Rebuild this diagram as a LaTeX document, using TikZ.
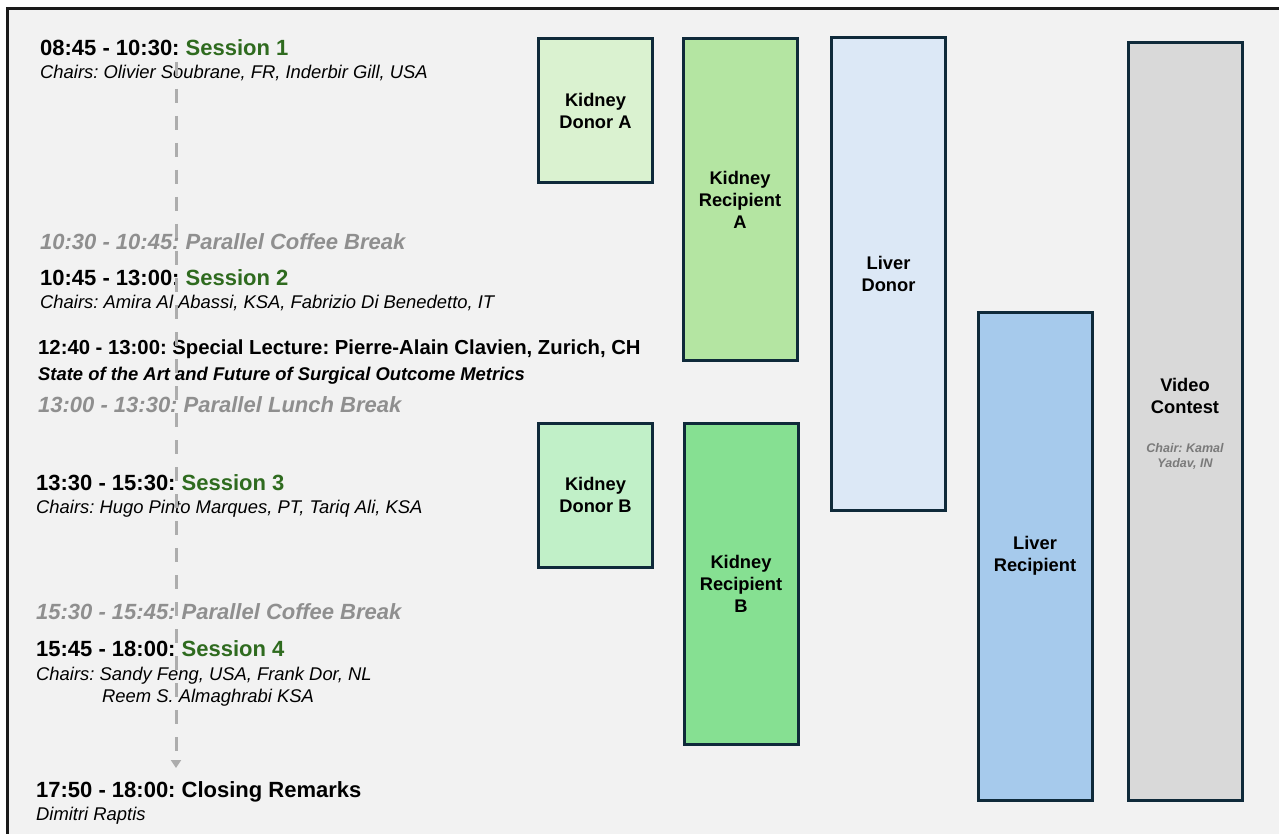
\documentclass[tikz,border=0pt]{standalone}
\usepackage{fontspec}
\setmainfont{Liberation Sans}
\frenchspacing
\usetikzlibrary{positioning, arrows.meta}
\definecolor{bgcol}{HTML}{F2F2F2}
\definecolor{framecol}{HTML}{1A1A1A}
\definecolor{boxline}{HTML}{0F2A3A}
\definecolor{kdafill}{HTML}{DAF2D0}
\definecolor{krafill}{HTML}{B4E5A2}
\definecolor{ldfill}{HTML}{DCE8F6}
\definecolor{lrfill}{HTML}{A6CAEC}
\definecolor{vcfill}{HTML}{D9D9D9}
\definecolor{kdbfill}{HTML}{C1F0C8}
\definecolor{krbfill}{HTML}{86E092}
\definecolor{sessgreen}{HTML}{2F6B1F}
\definecolor{breakgray}{HTML}{8F8F8F}
\definecolor{chairgray}{HTML}{7A7A7A}
\definecolor{linegray}{HTML}{ADADAD}
\tikzset{
	x=1pt, y=-1pt,
	node distance=12pt,
	track/.style={draw=boxline, line width=3pt, minimum width=114pt, inner sep=0pt},
	tracktext/.style={align=center, inner sep=0pt, font=\fontsize{18.3}{22}\selectfont\bfseries},
	chairnote/.style={align=center, inner sep=0pt, text=chairgray, font=\fontsize{12.5}{15}\selectfont\bfseries\itshape},
	head/.style={anchor=base west, inner sep=0pt, font=\fontsize{22}{26}\selectfont\bfseries},
	lecture/.style={anchor=base west, inner sep=0pt, font=\fontsize{20.3}{24}\selectfont\bfseries},
	topic/.style={anchor=base west, inner sep=0pt, font=\fontsize{18.4}{22}\selectfont\bfseries\itshape},
	chairs/.style={anchor=base west, inner sep=0pt, font=\fontsize{18.4}{22}\selectfont\itshape},
	pause/.style={anchor=base west, inner sep=0pt, text=breakgray, font=\fontsize{22}{26}\selectfont\bfseries\itshape},
	timeline/.style={draw=linegray, line width=3pt, dash pattern=on 14pt off 13pt, -{Triangle[width=10pt, length=8pt]}},
	frameline/.style={draw=framecol, line width=3pt}
}
\begin{document}
\begin{tikzpicture}
	\useasboundingbox (0,0) rectangle (1279,834);
	\fill[white] (0,0) rectangle (1279,834);
	\fill[bgcol] (7.3,8.3) rectangle (1279,834);
	\draw[frameline] (1279,8.3) -- (7.3,8.3) -- (7.3,834);

	\node[track, fill=kdafill, minimum height=144pt] (kda) at (595.5,111) {};
	\node[track, fill=krafill, minimum height=321pt] (kra) at (740,199.5) {};
	\node[track, fill=ldfill, minimum height=472pt] (ld) at (888.5,274) {};
	\node[track, fill=lrfill, minimum height=488pt] (lr) at (1035,556) {};
	\node[track, fill=vcfill, minimum height=757pt] (vc) at (1185,421.5) {};
	\node[track, fill=kdbfill, minimum height=144pt] (kdb) at (595.5,495) {};
	\node[track, fill=krbfill, minimum height=321pt] (krb) at (741,583.5) {};

	\node[tracktext] (kdat) at (kda) {Kidney\\Donor A};
	\node[tracktext] (krat) at (kra) {Kidney\\Recipient\\A};
	\node[tracktext] (ldt) at (ld) {Liver\\Donor};
	\node[tracktext] (lrt) at (lr) {Liver\\Recipient};
	\node[tracktext] (vct) at (1185,396) {Video\\Contest};
	\node[chairnote, below=29pt of vct] (vcc) {Chair: Kamal\\Yadav, IN};
	\node[tracktext] (kdbt) at (kdb) {Kidney\\Donor B};
	\node[tracktext] (krbt) at (krb) {Kidney\\Recipient\\B};

	\node[head] (s1) at (40,56) {08:45 - 10:30: \textcolor{sessgreen}{Session 1}};
	\node[chairs] (c1) at (40,79) {Chairs: Olivier Soubrane, FR, Inderbir Gill, USA};
	\node[pause] (p1) at (40,250) {10:30 - 10:45: Parallel Coffee Break};
	\node[head] (s2) at (40,285) {10:45 - 13:00: \textcolor{sessgreen}{Session 2}};
	\node[chairs] (c2) at (40,308) {Chairs: Amira Al Abassi, KSA, Fabrizio Di Benedetto, IT};
	\node[lecture] (sl) at (38,354) {12:40 - 13:00: Special Lecture: Pierre-Alain Clavien, Zurich, CH};
	\node[topic] (slt) at (38,380) {State of the Art and Future of Surgical Outcome Metrics};
	\node[pause] (p2) at (38,412) {13:00 - 13:30: Parallel Lunch Break};
	\node[head] (s3) at (36,490) {13:30 - 15:30: \textcolor{sessgreen}{Session 3}};
	\node[chairs] (c3) at (36,513) {Chairs: Hugo Pinto Marques, PT, Tariq Ali, KSA};
	\node[pause] (p3) at (36,619) {15:30 - 15:45: Parallel Coffee Break};
	\node[head] (s4) at (36,656) {15:45 - 18:00: \textcolor{sessgreen}{Session 4}};
	\node[chairs] (c4) at (36,680) {Chairs: Sandy Feng, USA, Frank Dor, NL};
	\node[chairs] (c4b) at (102,702) {Reem S. Almaghrabi KSA};
	\node[head] (cr) at (36,797) {17:50 - 18:00: Closing Remarks};
	\node[chairs] (crn) at (36,820) {Dimitri Raptis};

	\coordinate (tltop) at (176,62);
	\coordinate (tlend) at (176,768);
	\draw[timeline] (tltop) -- (tlend);
\end{tikzpicture}
\end{document}
